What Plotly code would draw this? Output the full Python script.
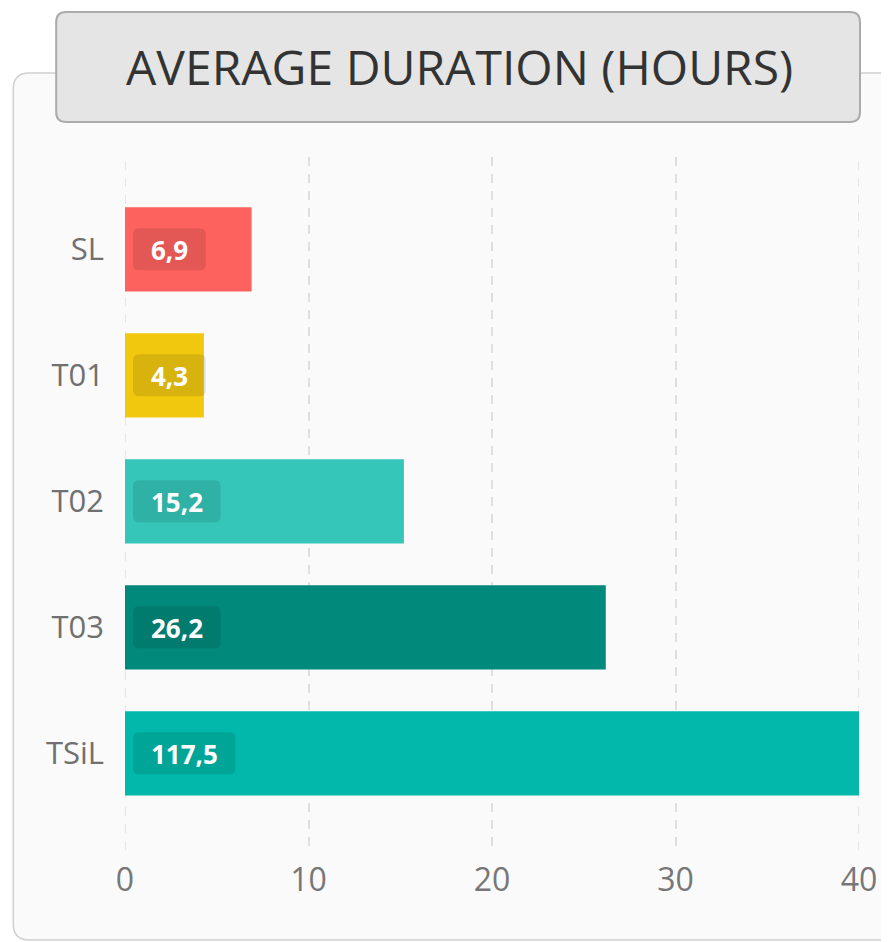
import plotly.graph_objects as go

categories = ["SL", "T01", "T02", "T03", "TSiL"]
values = [6.9, 4.3, 15.2, 26.2, 117.5]
labels = ["6,9", "4,3", "15,2", "26,2", "117,5"]
colors = ["#FD625E", "#F2C80F", "#35C6B9", "#01897B", "#01B8AA"]
x_ticks = [0, 10, 20, 30, 40]
title_text = "AVERAGE DURATION (HOURS)"

OFF = 8  # page body margin
W, H = 889 - OFF, 942 - OFF
# plot area in screen pixels: x 125..861, y 157..850
L, R, T, B = 125 - OFF, W - (861 - OFF), 157 - OFF, H - (850 - OFF)
PW, PH = W - L - R, H - T - B
FONT = "Open Sans"
LBL_SIZE = 26


def px(x):
    return (x - OFF - L) / PW


def py(y):
    return (H - B - (y - OFF)) / PH


def rrect(x0, y0, x1, y1, r):
    rx = r / PW
    ry = r / PH
    X0, X1 = px(x0), px(x1)
    Y0, Y1 = py(y0), py(y1)
    return (f"M {X0+rx},{Y0} L {X1-rx},{Y0} Q {X1},{Y0} {X1},{Y0-ry} "
            f"L {X1},{Y1+ry} Q {X1},{Y1} {X1-rx},{Y1} L {X0+rx},{Y1} "
            f"Q {X0},{Y1} {X0},{Y1+ry} L {X0},{Y0-ry} Q {X0},{Y0} {X0+rx},{Y0} Z")


def text_w(s):
    return LBL_SIZE * sum(0.27 if c == "," else 0.572 for c in s)


fig = go.Figure()
fig.add_trace(go.Bar(
    x=values, y=categories, orientation="h",
    marker=dict(color=colors, line=dict(width=0)),
    width=0.667, hoverinfo="skip",
))

shapes = [
    dict(type="path", xref="paper", yref="paper", layer="below",
         path=rrect(13, 73, 910, 940, 16),
         fillcolor="#FAFAFA", line=dict(color="#CFCFCF", width=1.5)),
    dict(type="path", xref="paper", yref="paper", layer="above",
         path=rrect(56, 12, 862, 122, 10),
         fillcolor="#E5E5E5", line=dict(color="#ABABAB", width=2)),
]
# edge gridlines (plotly omits grid lines on the range ends)
for xv in (x_ticks[0], x_ticks[-1]):
    shapes.append(dict(type="line", xref="x", yref="paper", x0=xv, x1=xv, y0=0, y1=1,
                       layer="below", line=dict(color="#DFDFDF", width=1.5, dash="9px,8px")))

annotations = [
    dict(xref="paper", yref="paper", x=px(460), y=py(66), text=title_text,
         showarrow=False, xanchor="center", yanchor="middle",
         font=dict(family=FONT, size=48, color="#333333")),
]

for cat, lab in zip(categories, labels):
    w = text_w(lab) + 36
    x0, x1 = 8, 8 + w
    y0, y1 = -21, 21
    r = 6
    path = (f"M {x0+r},{y1} L {x1-r},{y1} Q {x1},{y1} {x1},{y1-r} "
            f"L {x1},{y0+r} Q {x1},{y0} {x1-r},{y0} L {x0+r},{y0} "
            f"Q {x0},{y0} {x0},{y0+r} L {x0},{y1-r} Q {x0},{y1} {x0+r},{y1} Z")
    shapes.append(dict(type="path", xref="x", yref="y", xsizemode="pixel",
                       ysizemode="pixel", xanchor=0, yanchor=cat, path=path,
                       fillcolor="rgba(0,0,0,0.10)", line=dict(width=0),
                       layer="above"))
    annotations.append(dict(x=0, y=cat, xref="x", yref="y", text=f"<b>{lab}</b>",
                            showarrow=False, xanchor="center", yanchor="middle",
                            xshift=8 + w / 2, yshift=-1,
                            font=dict(family=FONT, size=LBL_SIZE, color="white")))

fig.update_layout(
    width=W, height=H,
    margin=dict(l=L, r=R, t=T, b=B, pad=0),
    paper_bgcolor="white", plot_bgcolor="rgba(0,0,0,0)",
    showlegend=False, shapes=shapes, annotations=annotations,
    font=dict(family=FONT),
    xaxis=dict(range=[0, 40], tickvals=x_ticks, ticktext=[str(t) for t in x_ticks],
               showgrid=True, gridcolor="#DFDFDF", gridwidth=1.5, griddash="9px,8px",
               zeroline=False, showline=False, ticks="",
               tickfont=dict(size=32, color="#777777"), ticklabelstandoff=8),
    yaxis=dict(categoryorder="array", categoryarray=categories,
               range=[4.767, -0.733], showgrid=False, zeroline=False, showline=False,
               ticks="", tickfont=dict(size=31, color="#707070"),
               ticklabelstandoff=20),
)

fig.write_html("out.html")
